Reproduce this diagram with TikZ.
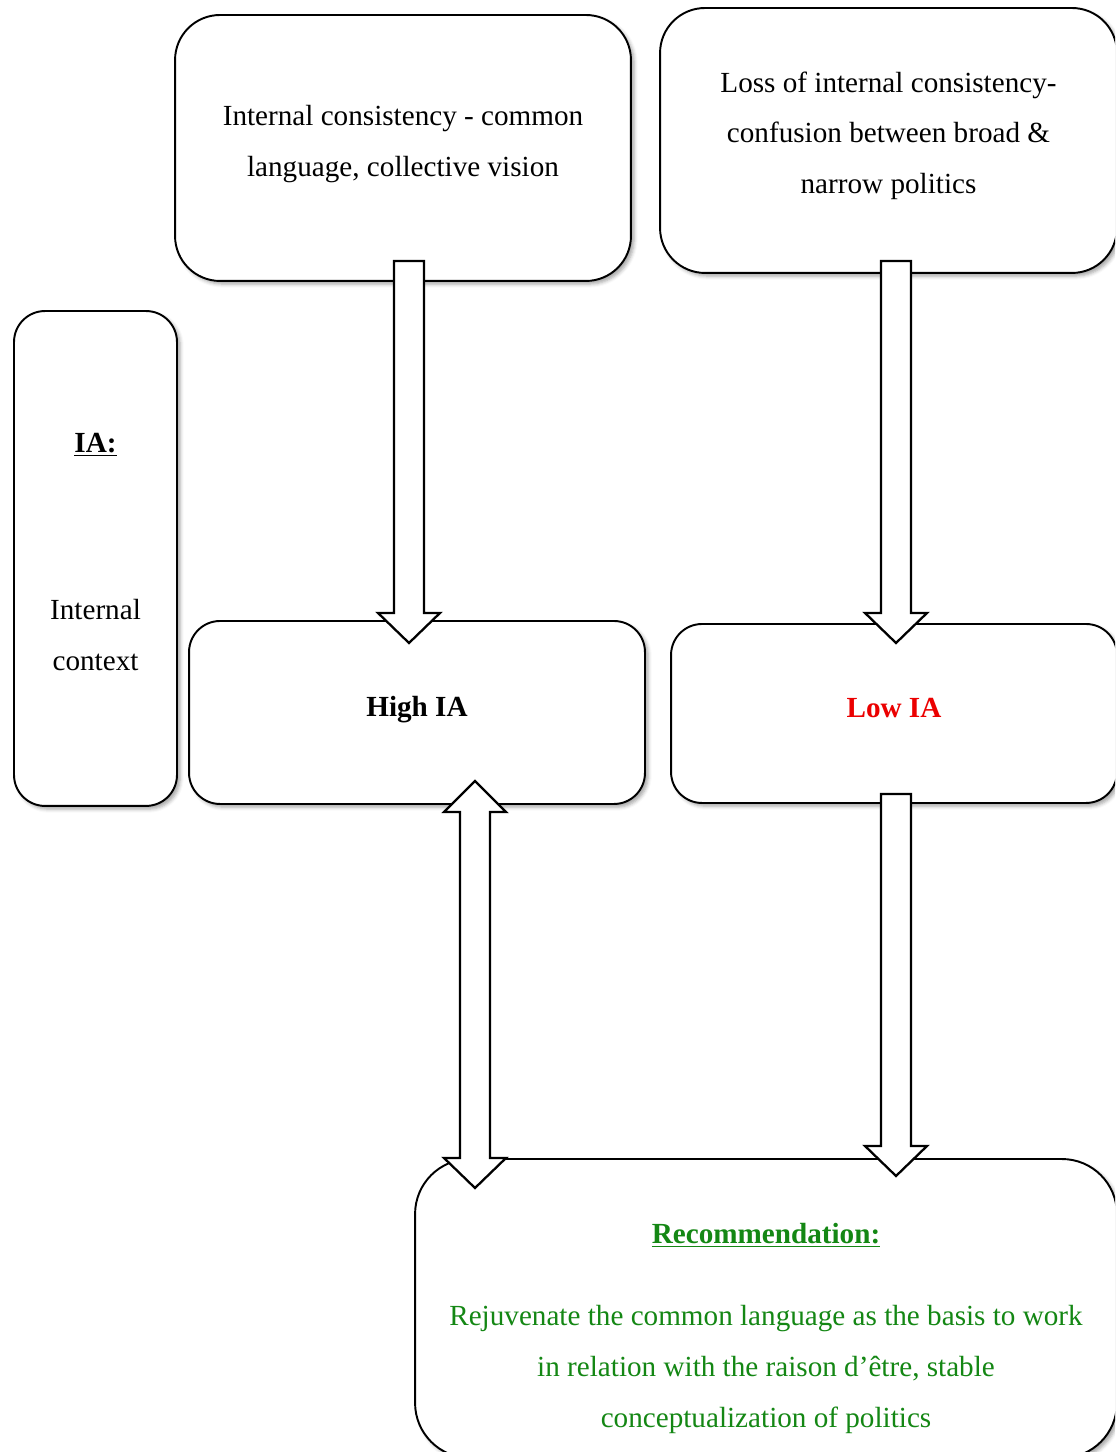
\documentclass[tikz,border=0pt]{standalone}
\usepackage{fontspec}
\setmainfont{Liberation Serif}
\usetikzlibrary{calc,shadows.blur}
\definecolor{recgreen}{RGB}{20,135,20}
\definecolor{lowred}{RGB}{235,0,0}

\tikzset{
  box/.style={draw, line width=1.1pt, fill=white, align=center, inner sep=0pt,
    blur shadow={shadow xshift=1.8pt, shadow yshift=-1.8pt, shadow blur radius=2pt,
      shadow opacity=35}},
  blockarrow/.style={draw, line width=1.3pt, fill=white, line join=miter},
}
% hollow block arrow pointing down, from shaft top to tip
\newcommand{\blockdown}[2]{%
  \draw[blockarrow] ($(#1)+(-15,0)$) -- ($(#1)+(15,0)$) -- ($(#2)+(15,30)$)
    -- ($(#2)+(31,30)$) -- (#2) -- ($(#2)+(-31,30)$) -- ($(#2)+(-15,30)$) -- cycle;}
% invisible depth under the last line (lifts the text a little)
\newcommand{\lowpad}[1]{\rule[-#1]{0pt}{0pt}}

\begin{document}
\begin{tikzpicture}[x=0.02cm, y=0.02cm, font=\fontsize{16.6}{28.9}\selectfont]
    \useasboundingbox (0,0) rectangle (1115,1452);
    \clip (0,0) rectangle (1115,1452);

    % boxes
    \node[box, rounded corners=0.9cm, minimum width=9.12cm, minimum height=5.32cm]
        (consist) at (403,1304) {Internal consistency - common\\language, collective vision\lowpad{0.29cm}};
    \node[box, rounded corners=0.9cm, minimum width=9.14cm, minimum height=5.3cm]
        (loss) at (888.5,1311.5) {Loss of internal consistency-\\confusion between broad \&\\narrow politics\lowpad{0.31cm}};
    \node[box, rounded corners=0.62cm, minimum width=3.26cm, minimum height=9.9cm]
        (ia) at (95.5,893.5) {\underline{\textbf{IA:}}\\[2.32cm]Internal\\context\lowpad{0.26cm}};
    \node[box, rounded corners=0.62cm, minimum width=9.12cm, minimum height=3.66cm]
        (high) at (417,739.5) {\textbf{High IA}\lowpad{0.25cm}};
    \node[box, rounded corners=0.62cm, minimum width=8.92cm, minimum height=3.58cm,
        text=lowred] (low) at (894,738.5) {\textbf{Low IA}\lowpad{0.24cm}};
    \node[box, rounded corners=1.1cm, minimum width=14.04cm, minimum height=5.98cm,
        text=recgreen] (rec) at (766,143.5)
        {\rule{0pt}{1.2cm}\underline{\textbf{Recommendation:}}\\[0.62cm]
         Rejuvenate the common language as the basis to work\\
         in relation with the raison d’être, stable\\
         conceptualization of politics};

    % arrow ends
    \coordinate (a1top) at (409,1191);
    \coordinate (a1tip) at (409,809);
    \coordinate (a2top) at (896,1191);
    \coordinate (a2tip) at (896,809);
    \coordinate (a3top) at (896,658);
    \coordinate (a3tip) at (896,276);
    \coordinate (duptip) at (475,671);
    \coordinate (ddowntip) at (475,264);

    % arrows
    \blockdown{a1top}{a1tip}
    \blockdown{a2top}{a2tip}
    \blockdown{a3top}{a3tip}
    \draw[blockarrow] (duptip) -- ($(duptip)+(31,-31)$) -- ($(duptip)+(15,-31)$)
        -- ($(ddowntip)+(15,30)$) -- ($(ddowntip)+(31,30)$) -- (ddowntip)
        -- ($(ddowntip)+(-31,30)$) -- ($(ddowntip)+(-15,30)$)
        -- ($(duptip)+(-15,-31)$) -- ($(duptip)+(-31,-31)$) -- cycle;
\end{tikzpicture}
\end{document}
